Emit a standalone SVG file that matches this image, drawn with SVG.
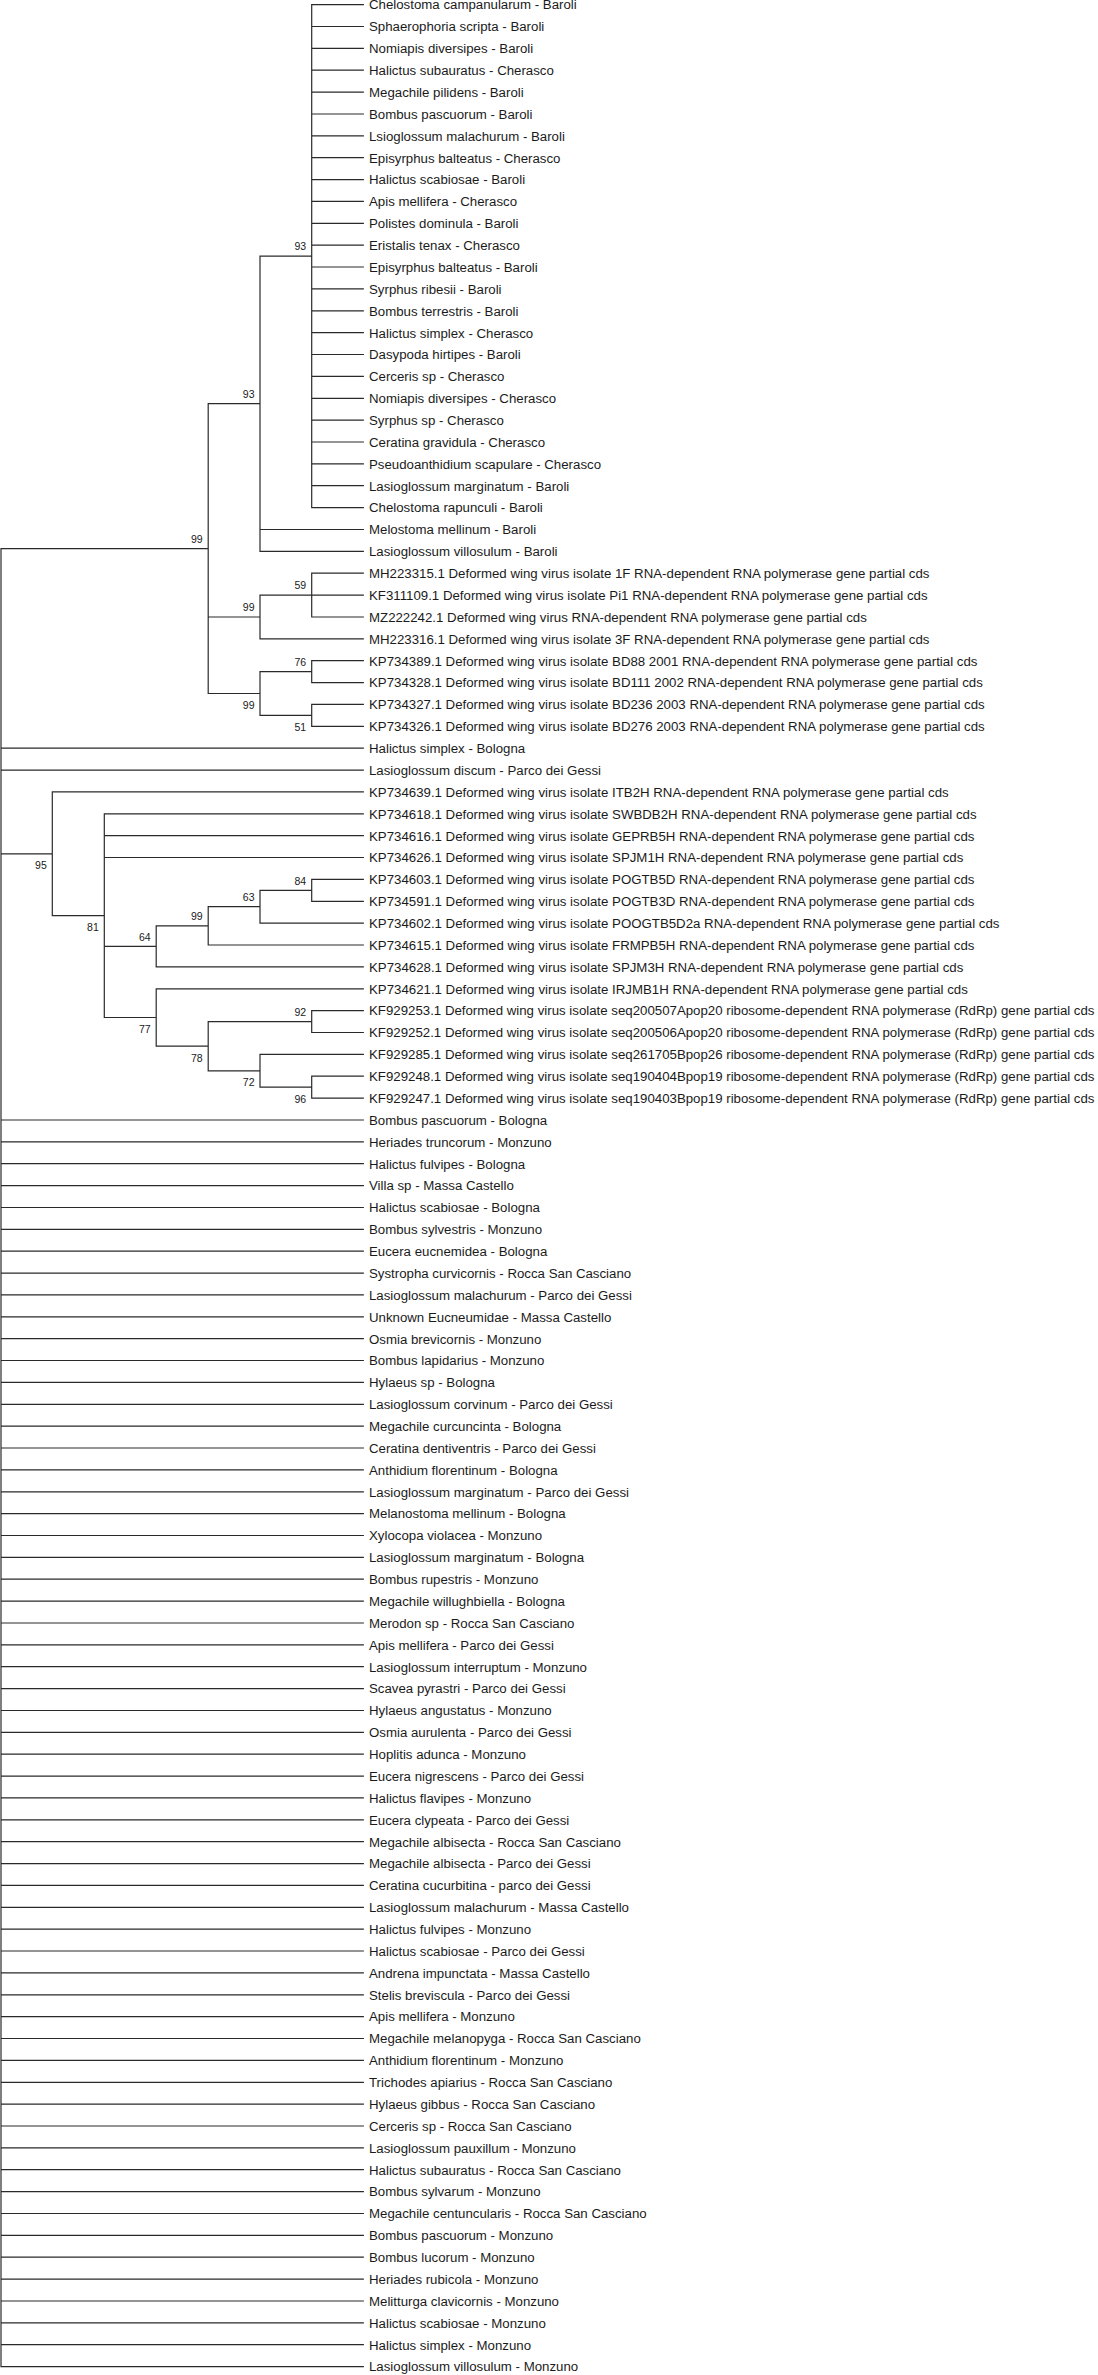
<svg xmlns="http://www.w3.org/2000/svg" width="1098" height="2375" viewBox="0 0 1098 2375">
<style>
.br{fill:none;stroke:#2a2a2a;stroke-width:1.2;stroke-linecap:square}
.lf{font-family:"Liberation Sans",Arial,sans-serif;font-size:13.25px;fill:#1a1a1a}
.bs{font-family:"Liberation Sans",Arial,sans-serif;font-size:10.5px;fill:#1a1a1a;text-anchor:end}
</style>
<rect width="1098" height="2375" fill="#ffffff"/>
<g id="connectors">
<path class="br" d="M1 548.6V2366.6M1 548.6H208.2M1 748.2H363.3M1 770.1H363.3M1 853.8H52.3
M208.2 403.7V693.5M208.2 403.7H260M208.2 617H260M208.2 693.5H260
M260 256.1V551.4M260 256.1H311.7M260 529.5H363.3M260 551.4H363.3
M311.7 4.6V507.6
M311.7 4.6H363.3M311.7 26.5H363.3M311.7 48.3H363.3M311.7 70.2H363.3M311.7 92.1H363.3M311.7 114H363.3M311.7 135.8H363.3M311.7 157.7H363.3M311.7 179.6H363.3M311.7 201.4H363.3M311.7 223.3H363.3M311.7 245.2H363.3M311.7 267H363.3M311.7 288.9H363.3M311.7 310.8H363.3M311.7 332.7H363.3M311.7 354.5H363.3M311.7 376.4H363.3M311.7 398.3H363.3M311.7 420.1H363.3M311.7 442H363.3M311.7 463.9H363.3M311.7 485.7H363.3M311.7 507.6H363.3
M260 595.1V638.8M260 595.1H311.7M260 638.8H363.3
M311.7 573.2V617M311.7 573.2H363.3M311.7 595.1H363.3M311.7 617H363.3
M260 671.6V715.4M260 671.6H311.7M260 715.4H311.7
M311.7 660.7V682.6M311.7 660.7H363.3M311.7 682.6H363.3
M311.7 704.4V726.3M311.7 704.4H363.3M311.7 726.3H363.3
M52.3 791.9V915.6M52.3 791.9H363.3M52.3 915.6H104.3
M104.3 813.8V1017.5M104.3 813.8H363.3M104.3 835.7H363.3M104.3 857.5H363.3M104.3 946.4H156.2M104.3 1017.5H156.2
M156.2 925.9V966.9M156.2 925.9H208.2M156.2 966.9H363.3
M208.2 906.7V945M208.2 906.7H260M208.2 945H363.3
M260 890.3V923.1M260 890.3H311.7M260 923.1H363.3
M311.7 879.4V901.3M311.7 879.4H363.3M311.7 901.3H363.3
M156.2 988.8V1046.2M156.2 988.8H363.3M156.2 1046.2H208.2
M208.2 1021.6V1070.8M208.2 1021.6H311.7M208.2 1070.8H260
M311.7 1010.6V1032.5M311.7 1010.6H363.3M311.7 1032.5H363.3
M260 1054.4V1087.2M260 1054.4H363.3M260 1087.2H311.7
M311.7 1076.2V1098.1M311.7 1076.2H363.3M311.7 1098.1H363.3
M1 1120H363.3M1 1141.8H363.3M1 1163.7H363.3M1 1185.6H363.3M1 1207.5H363.3M1 1229.3H363.3M1 1251.2H363.3M1 1273.1H363.3M1 1294.9H363.3M1 1316.8H363.3
M1 1338.7H363.3M1 1360.5H363.3M1 1382.4H363.3M1 1404.3H363.3M1 1426.2H363.3M1 1448H363.3M1 1469.9H363.3M1 1491.8H363.3M1 1513.6H363.3M1 1535.5H363.3
M1 1557.4H363.3M1 1579.2H363.3M1 1601.1H363.3M1 1623H363.3M1 1644.9H363.3M1 1666.7H363.3M1 1688.6H363.3M1 1710.5H363.3M1 1732.3H363.3M1 1754.2H363.3
M1 1776.1H363.3M1 1797.9H363.3M1 1819.8H363.3M1 1841.7H363.3M1 1863.6H363.3M1 1885.4H363.3M1 1907.3H363.3M1 1929.2H363.3M1 1951H363.3M1 1972.9H363.3
M1 1994.8H363.3M1 2016.6H363.3M1 2038.5H363.3M1 2060.4H363.3M1 2082.3H363.3M1 2104.1H363.3M1 2126H363.3M1 2147.9H363.3M1 2169.7H363.3M1 2191.6H363.3
M1 2213.5H363.3M1 2235.3H363.3M1 2257.2H363.3M1 2279.1H363.3M1 2301H363.3M1 2322.8H363.3M1 2344.7H363.3M1 2366.6H363.3"/>
</g>
<g id="support-values">
<g id="node-I93"><text class="bs" x="306.2" y="250.4">93</text></g>
<g id="node-O93"><text class="bs" x="254.5" y="398">93</text></g>
<g id="node-A99"><text class="bs" x="202.7" y="542.9">99</text></g>
<g id="node-59"><text class="bs" x="306.2" y="589.4">59</text></g>
<g id="node-V1-99"><text class="bs" x="254.5" y="611.3">99</text></g>
<g id="node-76"><text class="bs" x="306.2" y="665.9">76</text></g>
<g id="node-V2-99"><text class="bs" x="254.5" y="709.1">99</text></g>
<g id="node-51"><text class="bs" x="306.2" y="731">51</text></g>
<g id="node-95"><text class="bs" x="46.8" y="869.4">95</text></g>
<g id="node-81"><text class="bs" x="98.8" y="931.2">81</text></g>
<g id="node-64"><text class="bs" x="150.7" y="940.7">64</text></g>
<g id="node-99b"><text class="bs" x="202.7" y="920.2">99</text></g>
<g id="node-63"><text class="bs" x="254.5" y="901">63</text></g>
<g id="node-84"><text class="bs" x="306.2" y="884.6">84</text></g>
<g id="node-77"><text class="bs" x="150.7" y="1033.1">77</text></g>
<g id="node-78"><text class="bs" x="202.7" y="1061.8">78</text></g>
<g id="node-92"><text class="bs" x="306.2" y="1015.9">92</text></g>
<g id="node-72"><text class="bs" x="254.5" y="1086.4">72</text></g>
<g id="node-96"><text class="bs" x="306.2" y="1102.8">96</text></g>
</g>
<g id="leaves">
<g id="leaf-1"><text class="lf" x="369" y="9.4">Chelostoma campanularum - Baroli</text></g>
<g id="leaf-2"><text class="lf" x="369" y="31.3">Sphaerophoria scripta - Baroli</text></g>
<g id="leaf-3"><text class="lf" x="369" y="53.1">Nomiapis diversipes - Baroli</text></g>
<g id="leaf-4"><text class="lf" x="369" y="75">Halictus subauratus - Cherasco</text></g>
<g id="leaf-5"><text class="lf" x="369" y="96.9">Megachile pilidens - Baroli</text></g>
<g id="leaf-6"><text class="lf" x="369" y="118.8">Bombus pascuorum - Baroli</text></g>
<g id="leaf-7"><text class="lf" x="369" y="140.6">Lsioglossum malachurum - Baroli</text></g>
<g id="leaf-8"><text class="lf" x="369" y="162.5">Episyrphus balteatus - Cherasco</text></g>
<g id="leaf-9"><text class="lf" x="369" y="184.4">Halictus scabiosae - Baroli</text></g>
<g id="leaf-10"><text class="lf" x="369" y="206.2">Apis mellifera - Cherasco</text></g>
<g id="leaf-11"><text class="lf" x="369" y="228.1">Polistes dominula - Baroli</text></g>
<g id="leaf-12"><text class="lf" x="369" y="250">Eristalis tenax - Cherasco</text></g>
<g id="leaf-13"><text class="lf" x="369" y="271.8">Episyrphus balteatus - Baroli</text></g>
<g id="leaf-14"><text class="lf" x="369" y="293.7">Syrphus ribesii - Baroli</text></g>
<g id="leaf-15"><text class="lf" x="369" y="315.6">Bombus terrestris - Baroli</text></g>
<g id="leaf-16"><text class="lf" x="369" y="337.5">Halictus simplex - Cherasco</text></g>
<g id="leaf-17"><text class="lf" x="369" y="359.3">Dasypoda hirtipes - Baroli</text></g>
<g id="leaf-18"><text class="lf" x="369" y="381.2">Cerceris sp - Cherasco</text></g>
<g id="leaf-19"><text class="lf" x="369" y="403.1">Nomiapis diversipes - Cherasco</text></g>
<g id="leaf-20"><text class="lf" x="369" y="424.9">Syrphus sp - Cherasco</text></g>
<g id="leaf-21"><text class="lf" x="369" y="446.8">Ceratina gravidula - Cherasco</text></g>
<g id="leaf-22"><text class="lf" x="369" y="468.7">Pseudoanthidium scapulare - Cherasco</text></g>
<g id="leaf-23"><text class="lf" x="369" y="490.5">Lasioglossum marginatum - Baroli</text></g>
<g id="leaf-24"><text class="lf" x="369" y="512.4">Chelostoma rapunculi - Baroli</text></g>
<g id="leaf-25"><text class="lf" x="369" y="534.3">Melostoma mellinum - Baroli</text></g>
<g id="leaf-26"><text class="lf" x="369" y="556.2">Lasioglossum villosulum - Baroli</text></g>
<g id="leaf-27"><text class="lf" x="369" y="578">MH223315.1 Deformed wing virus isolate 1F RNA-dependent RNA polymerase gene partial cds</text></g>
<g id="leaf-28"><text class="lf" x="369" y="599.9">KF311109.1 Deformed wing virus isolate Pi1 RNA-dependent RNA polymerase gene partial cds</text></g>
<g id="leaf-29"><text class="lf" x="369" y="621.8">MZ222242.1 Deformed wing virus RNA-dependent RNA polymerase gene partial cds</text></g>
<g id="leaf-30"><text class="lf" x="369" y="643.6">MH223316.1 Deformed wing virus isolate 3F RNA-dependent RNA polymerase gene partial cds</text></g>
<g id="leaf-31"><text class="lf" x="369" y="665.5">KP734389.1 Deformed wing virus isolate BD88 2001 RNA-dependent RNA polymerase gene partial cds</text></g>
<g id="leaf-32"><text class="lf" x="369" y="687.4">KP734328.1 Deformed wing virus isolate BD111 2002 RNA-dependent RNA polymerase gene partial cds</text></g>
<g id="leaf-33"><text class="lf" x="369" y="709.2">KP734327.1 Deformed wing virus isolate BD236 2003 RNA-dependent RNA polymerase gene partial cds</text></g>
<g id="leaf-34"><text class="lf" x="369" y="731.1">KP734326.1 Deformed wing virus isolate BD276 2003 RNA-dependent RNA polymerase gene partial cds</text></g>
<g id="leaf-35"><text class="lf" x="369" y="753">Halictus simplex - Bologna</text></g>
<g id="leaf-36"><text class="lf" x="369" y="774.9">Lasioglossum discum - Parco dei Gessi</text></g>
<g id="leaf-37"><text class="lf" x="369" y="796.7">KP734639.1 Deformed wing virus isolate ITB2H RNA-dependent RNA polymerase gene partial cds</text></g>
<g id="leaf-38"><text class="lf" x="369" y="818.6">KP734618.1 Deformed wing virus isolate SWBDB2H RNA-dependent RNA polymerase gene partial cds</text></g>
<g id="leaf-39"><text class="lf" x="369" y="840.5">KP734616.1 Deformed wing virus isolate GEPRB5H RNA-dependent RNA polymerase gene partial cds</text></g>
<g id="leaf-40"><text class="lf" x="369" y="862.3">KP734626.1 Deformed wing virus isolate SPJM1H RNA-dependent RNA polymerase gene partial cds</text></g>
<g id="leaf-41"><text class="lf" x="369" y="884.2">KP734603.1 Deformed wing virus isolate POGTB5D RNA-dependent RNA polymerase gene partial cds</text></g>
<g id="leaf-42"><text class="lf" x="369" y="906.1">KP734591.1 Deformed wing virus isolate POGTB3D RNA-dependent RNA polymerase gene partial cds</text></g>
<g id="leaf-43"><text class="lf" x="369" y="927.9">KP734602.1 Deformed wing virus isolate POOGTB5D2a RNA-dependent RNA polymerase gene partial cds</text></g>
<g id="leaf-44"><text class="lf" x="369" y="949.8">KP734615.1 Deformed wing virus isolate FRMPB5H RNA-dependent RNA polymerase gene partial cds</text></g>
<g id="leaf-45"><text class="lf" x="369" y="971.7">KP734628.1 Deformed wing virus isolate SPJM3H RNA-dependent RNA polymerase gene partial cds</text></g>
<g id="leaf-46"><text class="lf" x="369" y="993.6">KP734621.1 Deformed wing virus isolate IRJMB1H RNA-dependent RNA polymerase gene partial cds</text></g>
<g id="leaf-47"><text class="lf" x="369" y="1015.4">KF929253.1 Deformed wing virus isolate seq200507Apop20 ribosome-dependent RNA polymerase (RdRp) gene partial cds</text></g>
<g id="leaf-48"><text class="lf" x="369" y="1037.3">KF929252.1 Deformed wing virus isolate seq200506Apop20 ribosome-dependent RNA polymerase (RdRp) gene partial cds</text></g>
<g id="leaf-49"><text class="lf" x="369" y="1059.2">KF929285.1 Deformed wing virus isolate seq261705Bpop26 ribosome-dependent RNA polymerase (RdRp) gene partial cds</text></g>
<g id="leaf-50"><text class="lf" x="369" y="1081">KF929248.1 Deformed wing virus isolate seq190404Bpop19 ribosome-dependent RNA polymerase (RdRp) gene partial cds</text></g>
<g id="leaf-51"><text class="lf" x="369" y="1102.9">KF929247.1 Deformed wing virus isolate seq190403Bpop19 ribosome-dependent RNA polymerase (RdRp) gene partial cds</text></g>
<g id="leaf-52"><text class="lf" x="369" y="1124.8">Bombus pascuorum - Bologna</text></g>
<g id="leaf-53"><text class="lf" x="369" y="1146.6">Heriades truncorum - Monzuno</text></g>
<g id="leaf-54"><text class="lf" x="369" y="1168.5">Halictus fulvipes - Bologna</text></g>
<g id="leaf-55"><text class="lf" x="369" y="1190.4">Villa sp - Massa Castello</text></g>
<g id="leaf-56"><text class="lf" x="369" y="1212.3">Halictus scabiosae - Bologna</text></g>
<g id="leaf-57"><text class="lf" x="369" y="1234.1">Bombus sylvestris - Monzuno</text></g>
<g id="leaf-58"><text class="lf" x="369" y="1256">Eucera eucnemidea - Bologna</text></g>
<g id="leaf-59"><text class="lf" x="369" y="1277.9">Systropha curvicornis - Rocca San Casciano</text></g>
<g id="leaf-60"><text class="lf" x="369" y="1299.7">Lasioglossum malachurum - Parco dei Gessi</text></g>
<g id="leaf-61"><text class="lf" x="369" y="1321.6">Unknown Eucneumidae - Massa Castello</text></g>
<g id="leaf-62"><text class="lf" x="369" y="1343.5">Osmia brevicornis - Monzuno</text></g>
<g id="leaf-63"><text class="lf" x="369" y="1365.3">Bombus lapidarius - Monzuno</text></g>
<g id="leaf-64"><text class="lf" x="369" y="1387.2">Hylaeus sp - Bologna</text></g>
<g id="leaf-65"><text class="lf" x="369" y="1409.1">Lasioglossum corvinum - Parco dei Gessi</text></g>
<g id="leaf-66"><text class="lf" x="369" y="1431">Megachile curcuncinta - Bologna</text></g>
<g id="leaf-67"><text class="lf" x="369" y="1452.8">Ceratina dentiventris - Parco dei Gessi</text></g>
<g id="leaf-68"><text class="lf" x="369" y="1474.7">Anthidium florentinum - Bologna</text></g>
<g id="leaf-69"><text class="lf" x="369" y="1496.6">Lasioglossum marginatum - Parco dei Gessi</text></g>
<g id="leaf-70"><text class="lf" x="369" y="1518.4">Melanostoma mellinum - Bologna</text></g>
<g id="leaf-71"><text class="lf" x="369" y="1540.3">Xylocopa violacea - Monzuno</text></g>
<g id="leaf-72"><text class="lf" x="369" y="1562.2">Lasioglossum marginatum - Bologna</text></g>
<g id="leaf-73"><text class="lf" x="369" y="1584">Bombus rupestris - Monzuno</text></g>
<g id="leaf-74"><text class="lf" x="369" y="1605.9">Megachile willughbiella - Bologna</text></g>
<g id="leaf-75"><text class="lf" x="369" y="1627.8">Merodon sp - Rocca San Casciano</text></g>
<g id="leaf-76"><text class="lf" x="369" y="1649.7">Apis mellifera - Parco dei Gessi</text></g>
<g id="leaf-77"><text class="lf" x="369" y="1671.5">Lasioglossum interruptum - Monzuno</text></g>
<g id="leaf-78"><text class="lf" x="369" y="1693.4">Scavea pyrastri - Parco dei Gessi</text></g>
<g id="leaf-79"><text class="lf" x="369" y="1715.3">Hylaeus angustatus - Monzuno</text></g>
<g id="leaf-80"><text class="lf" x="369" y="1737.1">Osmia aurulenta - Parco dei Gessi</text></g>
<g id="leaf-81"><text class="lf" x="369" y="1759">Hoplitis adunca - Monzuno</text></g>
<g id="leaf-82"><text class="lf" x="369" y="1780.9">Eucera nigrescens - Parco dei Gessi</text></g>
<g id="leaf-83"><text class="lf" x="369" y="1802.7">Halictus flavipes - Monzuno</text></g>
<g id="leaf-84"><text class="lf" x="369" y="1824.6">Eucera clypeata - Parco dei Gessi</text></g>
<g id="leaf-85"><text class="lf" x="369" y="1846.5">Megachile albisecta - Rocca San Casciano</text></g>
<g id="leaf-86"><text class="lf" x="369" y="1868.4">Megachile albisecta - Parco dei Gessi</text></g>
<g id="leaf-87"><text class="lf" x="369" y="1890.2">Ceratina cucurbitina - parco dei Gessi</text></g>
<g id="leaf-88"><text class="lf" x="369" y="1912.1">Lasioglossum malachurum - Massa Castello</text></g>
<g id="leaf-89"><text class="lf" x="369" y="1934">Halictus fulvipes - Monzuno</text></g>
<g id="leaf-90"><text class="lf" x="369" y="1955.8">Halictus scabiosae - Parco dei Gessi</text></g>
<g id="leaf-91"><text class="lf" x="369" y="1977.7">Andrena impunctata - Massa Castello</text></g>
<g id="leaf-92"><text class="lf" x="369" y="1999.6">Stelis breviscula - Parco dei Gessi</text></g>
<g id="leaf-93"><text class="lf" x="369" y="2021.4">Apis mellifera - Monzuno</text></g>
<g id="leaf-94"><text class="lf" x="369" y="2043.3">Megachile melanopyga - Rocca San Casciano</text></g>
<g id="leaf-95"><text class="lf" x="369" y="2065.2">Anthidium florentinum - Monzuno</text></g>
<g id="leaf-96"><text class="lf" x="369" y="2087.1">Trichodes apiarius - Rocca San Casciano</text></g>
<g id="leaf-97"><text class="lf" x="369" y="2108.9">Hylaeus gibbus - Rocca San Casciano</text></g>
<g id="leaf-98"><text class="lf" x="369" y="2130.8">Cerceris sp - Rocca San Casciano</text></g>
<g id="leaf-99"><text class="lf" x="369" y="2152.7">Lasioglossum pauxillum - Monzuno</text></g>
<g id="leaf-100"><text class="lf" x="369" y="2174.5">Halictus subauratus - Rocca San Casciano</text></g>
<g id="leaf-101"><text class="lf" x="369" y="2196.4">Bombus sylvarum - Monzuno</text></g>
<g id="leaf-102"><text class="lf" x="369" y="2218.3">Megachile centuncularis - Rocca San Casciano</text></g>
<g id="leaf-103"><text class="lf" x="369" y="2240.1">Bombus pascuorum - Monzuno</text></g>
<g id="leaf-104"><text class="lf" x="369" y="2262">Bombus lucorum - Monzuno</text></g>
<g id="leaf-105"><text class="lf" x="369" y="2283.9">Heriades rubicola - Monzuno</text></g>
<g id="leaf-106"><text class="lf" x="369" y="2305.8">Melitturga clavicornis - Monzuno</text></g>
<g id="leaf-107"><text class="lf" x="369" y="2327.6">Halictus scabiosae - Monzuno</text></g>
<g id="leaf-108"><text class="lf" x="369" y="2349.5">Halictus simplex - Monzuno</text></g>
<g id="leaf-109"><text class="lf" x="369" y="2371.4">Lasioglossum villosulum - Monzuno</text></g>
</g>
</svg>
